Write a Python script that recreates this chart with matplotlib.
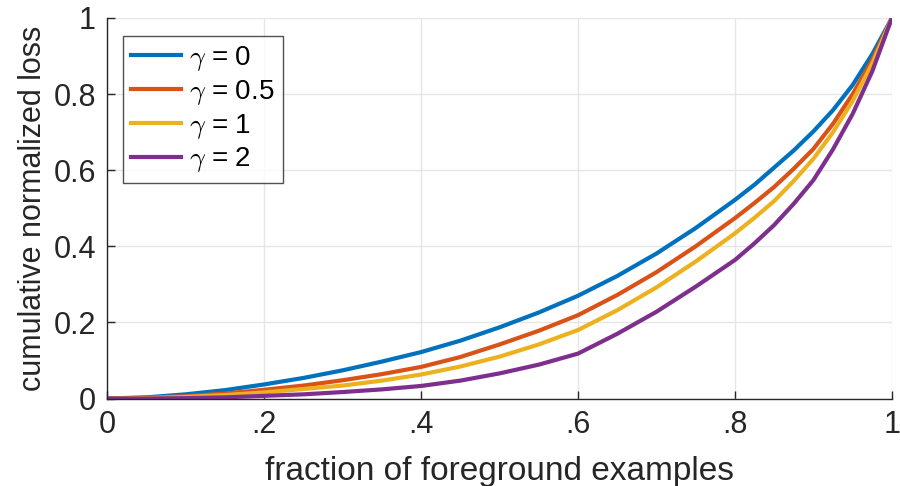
import matplotlib.pyplot as plt

plt.rcParams['font.family'] = ['Liberation Sans', 'DejaVu Sans']
plt.rcParams['mathtext.fontset'] = 'cm'

# fraction of foreground examples
frac = [0, .05, .1, .15, .2, .25, .3, .35, .4, .45, .5, .55, .6, .65, .7, .75,
        .8, .825, .85, .875, .9, .925, .95, .975, 1]

# cumulative normalized loss
loss_g0 = [0, .003, .011, .022, .037, .054, .074, .097, .122, .152, .187, .226, .270, .322, .381, .448,
           .522, .562, .607, .652, .702, .758, .824, .905, 1]
loss_g05 = [0, .002, .006, .013, .023, .034, .048, .064, .083, .109, .142, .178, .219, .272, .332, .400,
            .474, .514, .556, .604, .656, .722, .800, .890, 1]
loss_g1 = [0, .001, .004, .009, .016, .025, .034, .047, .063, .084, .110, .142, .180, .232, .292, .360,
           .434, .475, .519, .572, .630, .700, .782, .880, 1]
loss_g2 = [0, 0, .001, .003, .007, .011, .017, .024, .033, .047, .066, .089, .118, .170, .228, .294,
           .364, .408, .456, .512, .574, .655, .748, .860, 1]

labels = [r'$\gamma$ = 0', r'$\gamma$ = 0.5', r'$\gamma$ = 1', r'$\gamma$ = 2']
colors = ['#0072BD', '#D95319', '#EDB120', '#7E2F8E']

fig = plt.figure(figsize=(9, 4.86), dpi=100)
ax = fig.add_axes([0.119, 0.180, 0.872, 0.783])

for y, lab, c in zip([loss_g0, loss_g05, loss_g1, loss_g2], labels, colors):
    ax.plot(frac, y, color=c, lw=3.0, label=lab, solid_joinstyle='round')

ax.set_xlim(0, 1)
ax.set_ylim(0, 1)
ax.set_xticks([0, .2, .4, .6, .8, 1])
ax.set_xticklabels(['0', '.2', '.4', '.6', '.8', '1'])
ax.set_yticks([0, .2, .4, .6, .8, 1])
ax.set_yticklabels(['0', '0.2', '0.4', '0.6', '0.8', '1'])
ax.tick_params(direction='in', length=6, width=1, labelsize=22, color='#262626', labelcolor='#262626', pad=8)
ax.grid(True, color='#e6e6e6', lw=1)
ax.set_axisbelow(True)
for s in ['top', 'right']:
    ax.spines[s].set_visible(False)
for s in ['left', 'bottom']:
    ax.spines[s].set_color('#262626')
    ax.spines[s].set_linewidth(1)

ax.set_xlabel('fraction of foreground examples', fontsize=24, color='#262626', labelpad=12)
ax.set_ylabel('cumulative normalized loss', fontsize=22, color='#262626', labelpad=4)

leg = ax.legend(loc='upper left', bbox_to_anchor=(0.02, 0.953), fontsize=20, frameon=True, fancybox=False,
                handlelength=1.8, handletextpad=0.3, labelspacing=0.17, borderpad=0.3, borderaxespad=0)
leg.get_frame().set_edgecolor('#262626')
leg.get_frame().set_linewidth(1)

plt.savefig('out.png', dpi=100)
